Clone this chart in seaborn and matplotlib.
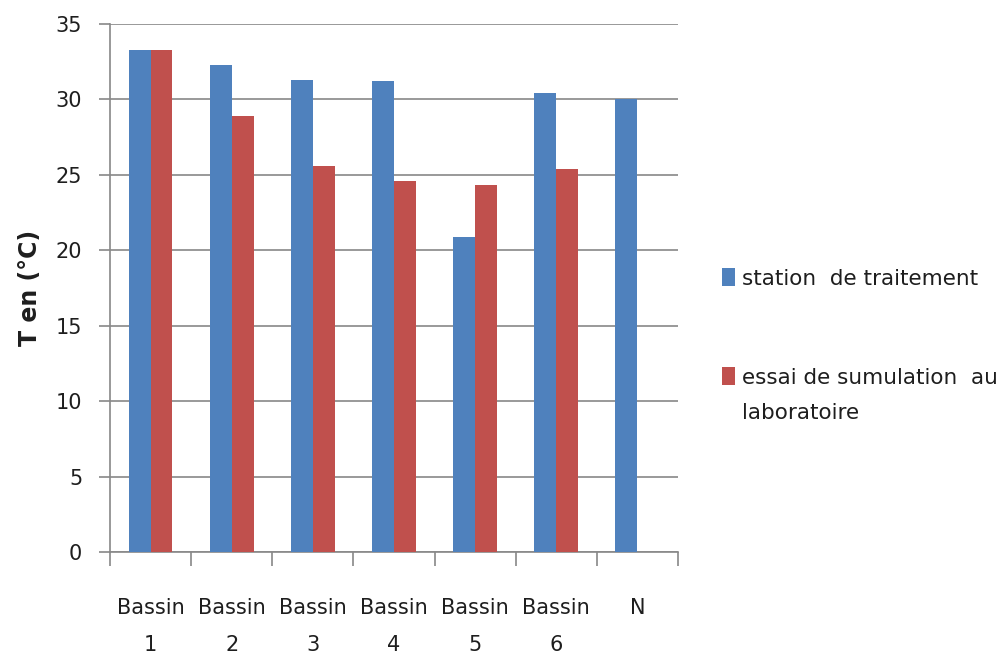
import matplotlib
matplotlib.use("Agg")
import matplotlib.pyplot as plt
from matplotlib.patches import Patch
from matplotlib.transforms import IdentityTransform
import numpy as np
import pandas as pd
import seaborn as sns

# Temperature per basin: treatment plant vs. laboratory simulation
categories = ["Bassin\n1", "Bassin\n2", "Bassin\n3", "Bassin\n4", "Bassin\n5", "Bassin\n6", "N"]
station = [33.3, 32.3, 31.3, 31.2, 20.9, 30.4, 30.0]
simulation = [33.3, 28.9, 25.6, 24.6, 24.3, 25.4, np.nan]
series_names = ["station  de traitement", "essai de sumulation  au"]
series_name_cont = "laboratoire"
colors = ["#4F81BD", "#C0504D"]
y_ticks = [0, 5, 10, 15, 20, 25, 30, 35]
y_label = "T en (°C)"

sns.set_theme(style="white")
plt.rcParams["font.family"] = ["DejaVu Sans"]

df = pd.DataFrame({
    "cat": categories * 2,
    "val": station + simulation,
    "serie": [series_names[0]] * len(categories) + [series_names[1]] * len(categories),
})

fig = plt.figure(figsize=(10.02, 6.56), dpi=100)
ax = fig.add_axes([0.1098, 0.1585, 0.5668, 0.8049])

sns.barplot(data=df, x="cat", y="val", hue="serie", hue_order=series_names,
            order=categories, palette=colors, width=0.54, saturation=1,
            errorbar=None, linewidth=0, legend=False, ax=ax, zorder=3)

grid_color = "#888888"
text_color = "#1e1e1e"
ax.set_ylim(0, 35)
ax.set_xlim(-0.5, len(categories) - 0.5)
ax.set_yticks(y_ticks)
ax.yaxis.grid(True, color=grid_color, linewidth=1.2, zorder=0)
ax.set_axisbelow(True)

for side in ["top", "right"]:
    ax.spines[side].set_visible(False)
for side in ["left", "bottom"]:
    ax.spines[side].set_color(grid_color)
    ax.spines[side].set_linewidth(1.2)

# category boundary ticks below the axis, labels centred on categories
ax.set_xticks(np.arange(-0.5, len(categories), 1.0), minor=True)
ax.tick_params(axis="x", which="minor", bottom=True, length=10, width=1.2,
               color=grid_color, direction="out")
ax.tick_params(axis="x", which="major", bottom=False, length=0, pad=33,
               labelsize=15, labelcolor=text_color)
ax.tick_params(axis="y", which="major", length=8, width=1.2, color=grid_color,
               direction="out", left=True, pad=12, labelsize=15, labelcolor=text_color)
for lbl in ax.get_xticklabels():
    lbl.set_linespacing(2.1)

ax.set_xlabel("")
ax.set_ylabel(y_label, fontsize=17, fontweight="bold", color=text_color, labelpad=10)

handles = [Patch(facecolor=c, edgecolor="none") for c in colors]
leg = fig.legend(handles, series_names, loc="upper left", bbox_to_anchor=(0.7206, 0.591),
                 frameon=False, fontsize=15.5, handlelength=0.6, handleheight=0.9,
                 handletextpad=0.35, labelspacing=3.65, borderpad=0, borderaxespad=0,
                 labelcolor=text_color)

# second line of the red series label, set under its first line
fig.canvas.draw()
bb = leg.get_texts()[1].get_window_extent()
fig.text(bb.x0, (bb.y0 + bb.y1) / 2 - 35, series_name_cont, transform=IdentityTransform(),
         ha="left", va="center", fontsize=15.5, color=text_color)

fig.savefig("out.png", dpi=100, facecolor="white")
